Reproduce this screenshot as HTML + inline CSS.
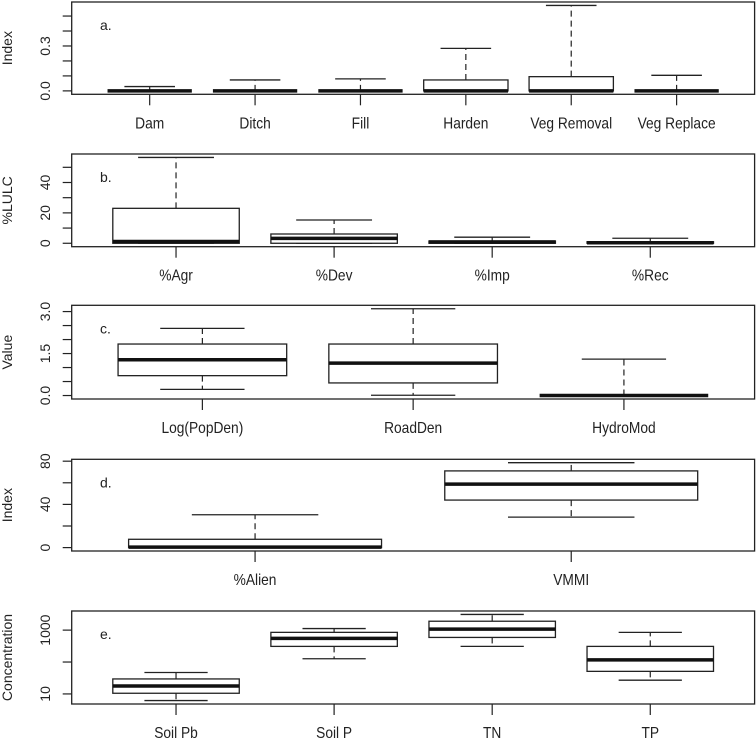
<!DOCTYPE html>
<html><head><meta charset="utf-8"><style>
body{margin:0;background:#fff}
svg{display:block}
text{font-family:"Liberation Sans",Arial,sans-serif;fill:#222}
.cat{font-family:"Liberation Sans Narrow","Liberation Sans",sans-serif;font-size:16px}
</style></head><body>
<svg id="chart" width="756" height="740" viewBox="0 0 756 740" xmlns="http://www.w3.org/2000/svg"></svg>
<script>
// Panel a
const catsA = ["Dam","Ditch","Fill","Harden","Veg Removal","Veg Replace"];
const lowA = [0,0,0,0,0,0];
const q1A = [0,0,0,0,0,0];
const medA = [0,0,0,0,0,0];
const q3A = [0,0,0,0.073,0.095,0];
const highA = [0.029,0.073,0.08,0.284,0.571,0.104];
const ticksA = [0,0.1,0.2,0.3,0.4,0.5];
const tickLabA = ["0.0","","","0.3","",""];
// Panel b
const catsB = ["%Agr","%Dev","%Imp","%Rec"];
const lowB = [0,0,0,0];
const q1B = [0,0,0,0];
const medB = [1.2,3.2,0.8,0.3];
const q3B = [23,6.1,1.5,1];
const highB = [56.5,15.3,4,3.3];
const ticksB = [0,10,20,30,40,50];
const tickLabB = ["0","","20","","40",""];
// Panel c
const catsC = ["Log(PopDen)","RoadDen","HydroMod"];
const lowC = [0.22,0.01,0];
const q1C = [0.71,0.45,0];
const medC = [1.28,1.16,0];
const q3C = [1.84,1.84,0];
const highC = [2.40,3.10,1.30];
const ticksC = [0,0.5,1,1.5,2,2.5,3];
const tickLabC = ["0.0","","","1.5","","","3.0"];
// Panel d
const catsD = ["%Alien","VMMI"];
const lowD = [0,28.2];
const q1D = [0,44];
const medD = [0.5,58.8];
const q3D = [7.7,71];
const highD = [30.4,78.6];
const ticksD = [0,20,40,60,80];
const tickLabD = ["0","","40","","80"];
// Panel e (log scale)
const catsE = ["Soil Pb","Soil P","TN","TP"];
const lowE = [6.2,127,310,27];
const q1E = [10.5,309,590,51];
const medE = [17.8,550,1070,117];
const q3E = [29.5,851,1900,309];
const highE = [47,1120,3100,850];
const ticksE = [10,100,1000];
const tickLabE = ["10","","1000"];

const panels = [
 {id:"a",title:"Index",top:2,bot:94.3,cats:catsA,low:lowA,q1:q1A,med:medA,q3:q3A,high:highA,ticks:ticksA,labs:tickLabA,log:false,staple:0.6},
 {id:"b",title:"%LULC",top:154,bot:246.7,cats:catsB,low:lowB,q1:q1B,med:medB,q3:q3B,high:highB,ticks:ticksB,labs:tickLabB,log:false,staple:0.6},
 {id:"c",title:"Value",top:305.3,bot:399,cats:catsC,low:lowC,q1:q1C,med:medC,q3:q3C,high:highC,ticks:ticksC,labs:tickLabC,log:false,staple:0.5},
 {id:"d",title:"Index",top:459.3,bot:551,cats:catsD,low:lowD,q1:q1D,med:medD,q3:q3D,high:highD,ticks:ticksD,labs:tickLabD,log:false,staple:0.5},
 {id:"e",title:"Concentration",top:611,bot:704,cats:catsE,low:lowE,q1:q1E,med:medE,q3:q3E,high:highE,ticks:ticksE,labs:tickLabE,log:true,staple:0.5}
];
const L=71.7, R=754.6;
const svg=document.getElementById("chart");
const NS="http://www.w3.org/2000/svg";
function mk(tag,attrs,parent,txt){const e=document.createElementNS(NS,tag);for(const k in attrs)e.setAttribute(k,attrs[k]);if(txt!==undefined)e.textContent=txt;parent.appendChild(e);return e;}

panels.forEach(p=>{
  const g=mk("g",{},svg);
  
  
  const tr=v=>p.log?Math.log10(v):v;
  const lo=Math.min(...p.low.map(tr)), hi=Math.max(...p.high.map(tr));
  const pad=(hi-lo)*0.04, y0=lo-pad, y1=hi+pad;
  const yS=v=>p.bot-(tr(v)-y0)/(y1-y0)*(p.bot-p.top);
  const n=p.cats.length, x0=0.5-0.04*n, x1=n+0.5+0.04*n;
  const xS=i=>L+(i-x0)/(x1-x0)*(R-L);
  const unit=(R-L)/(x1-x0);
  const frame=mk("rect",{x:L,y:p.top,width:R-L,height:p.bot-p.top,fill:"none",stroke:"#222","stroke-width":1.3},g);
  
  
  p.ticks.forEach((t,k)=>{
    const y=yS(t);
    const tk=mk("line",{x1:L-9,x2:L,y1:y,y2:y,stroke:"#222","stroke-width":1.2},g);
    
    
    if(p.labs[k]){
      const tl=mk("text",{x:0,y:0,"font-size":14,"text-anchor":"middle",transform:`translate(50,${y}) rotate(-90)`},g,p.labs[k]);
      
      
    }
  });
  const yt=mk("text",{x:0,y:0,"font-size":14,"text-anchor":"middle",transform:`translate(12,${(p.top+p.bot)/2}) rotate(-90)`},g,p.title);
  
  
  const pl=mk("text",{x:100,y:p.top+28,"font-size":14},g,p.id+".");
  
  
  p.cats.forEach((c,i)=>{
    const cx=xS(i+1), hw=0.4*unit, sw=p.staple*hw;
    const bg=mk("g",{},g);
    
    
    mk("line",{x1:cx,x2:cx,y1:yS(p.q3[i]),y2:yS(p.high[i]),stroke:"#222","stroke-width":1.2,"stroke-dasharray":"6,4"},bg);
    mk("line",{x1:cx,x2:cx,y1:yS(p.q1[i]),y2:yS(p.low[i]),stroke:"#222","stroke-width":1.2,"stroke-dasharray":"6,4"},bg);
    mk("line",{x1:cx-sw,x2:cx+sw,y1:yS(p.high[i]),y2:yS(p.high[i]),stroke:"#222","stroke-width":1.3},bg);
    mk("line",{x1:cx-sw,x2:cx+sw,y1:yS(p.low[i]),y2:yS(p.low[i]),stroke:"#222","stroke-width":1.3},bg);
    mk("rect",{x:cx-hw,y:yS(p.q3[i]),width:2*hw,height:Math.max(0,yS(p.q1[i])-yS(p.q3[i])),fill:"#fff",stroke:"#222","stroke-width":1.3},bg);
    mk("line",{x1:cx-hw,x2:cx+hw,y1:yS(p.med[i]),y2:yS(p.med[i]),stroke:"#111","stroke-width":3.5},bg);
    const xt=mk("line",{x1:cx,x2:cx,y1:p.bot,y2:p.bot+11,stroke:"#222","stroke-width":1.2},g);
    
    
    const xl=mk("text",{x:cx,y:p.bot+34,"text-anchor":"middle",class:"cat"},g,c);
    
    
    const w=xl.getComputedTextLength();
    if(w>0){xl.setAttribute("textLength",(w*0.86).toFixed(1));xl.setAttribute("lengthAdjust","spacingAndGlyphs");}
  });
});
</script>
</body></html>
